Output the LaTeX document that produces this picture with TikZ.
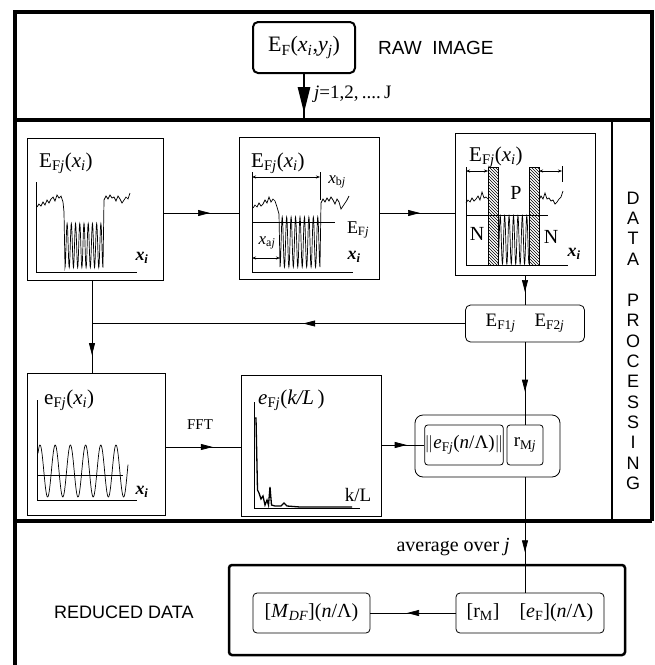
\documentclass[tikz,border=0pt]{standalone}
\usepackage{fontspec}
\setmainfont{Liberation Serif}
\setsansfont{Liberation Sans}
\usetikzlibrary{arrows.meta,decorations.markings,patterns}
\newcommand\sbs[1]{\textsubscript{#1}}
\newcommand\fz[1]{\fontsize{#1}{#1}\selectfont}
\begin{document}
\begin{tikzpicture}[x=1pt,y=-1pt,
  frame/.style={line width=3.5pt},
  panel/.style={draw,line width=0.8pt,inner sep=0pt},
  rbox/.style={draw,line width=0.8pt,rounded corners=5pt,inner sep=0pt},
  conn/.style={line width=0.7pt},
  marr/.style={postaction={decorate},decoration={markings,mark=at position #1 with {\arrow{Triangle[length=12pt,width=6pt]}}}},
  bigarr/.style={postaction={decorate},decoration={markings,mark=at position #1 with {\arrow{Triangle[length=26pt,width=12pt]}}}},
  curve/.style={line width=0.7pt},
  axis/.style={line width=0.7pt},
  dim/.style={line width=0.5pt,{Stealth[length=4pt,width=3pt]}-{Stealth[length=4pt,width=3pt]}},
  lab/.style={inner sep=0pt,font=\fz{21}},
  xlab/.style={inner sep=0pt,font=\fz{18}\bfseries\itshape},
  caps/.style={inner sep=0pt,font=\sffamily\fz{18}}
]
\useasboundingbox (0,0) rectangle (655,665);
\fill[white] (0,0) rectangle (655,665);

% frame
\draw[frame] (15,665) -- (15,12) -- (652,12) -- (652,521);
\draw[frame] (15,120) -- (652,120);
\draw[frame] (15,521) -- (652,521);
\draw[line width=2.5pt] (612,120) -- (612,521);

% raw image
\node[rbox,line width=2pt,minimum width=102,minimum height=51,font=\fz{22}] (raw) at (304,47.5) {E\sbs{F}(\textit{x\sbs{i}},\textit{y\sbs{j}})};
\node[caps,anchor=west,font=\sffamily\fz{19}] (rawlab) at (378,48) {RAW\ \ IMAGE};
\coordinate (sep1) at (304,120);
\draw[line width=2.5pt,bigarr=0.85] (raw.south) -- (sep1);
\node[inner sep=0pt,anchor=west,font=\fz{19}] (jlab) at (314,94) {\textit{j}=1,2,\,....\,J};

% panels
\node[panel,minimum width=136,minimum height=142] (p1) at (95,209) {};
\node[panel,minimum width=140,minimum height=142] (p2) at (309,208) {};
\node[panel,minimum width=140,minimum height=142] (p3) at (525,204) {};
\node[rbox,minimum width=119,minimum height=37,font=\fz{19}] (ef) at (525,323.5) {E\sbs{F1\textit{j}}\quad E\sbs{F2\textit{j}}};
\node[panel,minimum width=138,minimum height=142] (p4) at (96,444) {};
\node[panel,minimum width=140,minimum height=141] (p5) at (311,445.5) {};
\node[rbox,rounded corners=8pt,minimum width=145,minimum height=62] (outer) at (487.5,446) {};
\node[rbox,rounded corners=3pt,minimum width=78,minimum height=40,font=\fz{19}] (norm) at (464,445) {$\|$\textit{e}\sbs{F\textit{j}}(\textit{n}/Λ)$\|$};
\node[rbox,rounded corners=3pt,minimum width=36,minimum height=40,font=\fz{19}] (rmj) at (525,445) {r\sbs{M\textit{j}}};

% panel 1
\node[lab,anchor=west] (l1) at (39,163) {E\sbs{F\textit{j}}(\textit{x\sbs{i}})};
\draw[axis] (36,182) -- (36,272) -- (137,272);
\draw[curve] plot coordinates {(37,207)(39,204)(41,206)(43,202)(45,205)(47,200)(49,203)(51,199)(53,197)(55,201)(57,195)(59,198)(61,196)(63,202)(64,212)}
  -- plot[domain=0:9,samples=181] ({65+38*\x/9},{245.5+22*cos(360*\x)})
  -- plot coordinates {(104,200)(106,196)(108,199)(110,195)(112,198)(114,197)(116,201)(118,196)(120,199)(122,203)(124,200)(126,197)(128,199)(130,193)};
\node[xlab] (xi1) at (142,258) {x\sbs{i}};

% panel 2
\node[lab,anchor=west] (l2) at (251,163) {E\sbs{F\textit{j}}(\textit{x\sbs{i}})};
\draw[axis] (252,172) -- (252,272) -- (353,272);
\draw[curve] plot coordinates {(253,208)(255,205)(257,207)(259,203)(261,206)(263,204)(265,200)(267,203)(269,197)(271,202)(273,199)(275,201)(277,207)(279,214)}
  -- plot[domain=0:9,samples=181] ({280+40*\x/9},{242+25*cos(360*\x)})
  -- plot coordinates {(321,203)(323,199)(325,202)(327,198)(329,201)(331,197)(333,200)(335,204)(337,199)(339,202)(341,209)(343,206)(345,203)(347,200)(349,196)};
\draw[axis] (320,172) -- (320,200);
\draw[dim] (252,177) -- (320,177);
\draw[axis] (252,222) -- (335,222);
\draw[dim] (252,258) -- (280,258);
\node[inner sep=0pt,font=\fz{17}] (xb) at (337,182) {\textit{x}\sbs{b\textit{j}}};
\node[inner sep=0pt,font=\fz{18}] (efl) at (358,230) {E\sbs{F\textit{j}}};
\node[inner sep=0pt,font=\fz{17}] (xa) at (267,243) {\textit{x}\sbs{a\textit{j}}};
\node[xlab] (xi2) at (354,257) {x\sbs{i}};

% panel 3
\node[lab,anchor=west] (l3) at (469,157) {E\sbs{F\textit{j}}(\textit{x\sbs{i}})};
\draw[axis] (466,167) -- (466,265) -- (568,265);
\draw[curve] plot coordinates {(466,203)(468,200)(470,202)(472,198)(474,201)(476,199)(478,196)(480,200)(482,192)(484,198)(486,197)(488,199)};
\draw[curve] plot coordinates {(539,200)(541,196)(543,199)(545,193)(547,199)(549,198)(551,201)(553,200)(555,204)(557,202)(559,199)(561,197)(563,191)};
\draw[curve] plot[domain=0:7,samples=141] ({498+31*\x/7},{240+24*cos(360*\x)});
\draw[axis] (466,215) -- (548,215);
\draw[line width=0.7pt,pattern=north west lines] (488,167) rectangle (498,265);
\draw[line width=0.7pt,pattern=north west lines] (529,167) rectangle (539,265);
\draw[dim] (466,171) -- (488,171);
\draw[dim] (539,171) -- (562,171);
\draw[axis] (562,166) -- (562,182);
\node[inner sep=0pt,font=\fz{20}] (pl) at (516,193) {P};
\node[inner sep=0pt,font=\fz{20}] (n1) at (477,234) {N};
\node[inner sep=0pt,font=\fz{20}] (n2) at (551,237) {N};
\node[xlab] (xi3) at (574,254) {x\sbs{i}};

% panel 4
\node[lab,anchor=west] (l4) at (44,400) {e\sbs{F\textit{j}}(\textit{x\sbs{i}})};
\draw[axis] (37,400) -- (37,500) -- (137,500);
\draw[axis] (37,475) -- (123,475);
\draw[curve] plot[domain=38:128,samples=200] (\x,{471-26*cos(23.684*(\x-40))});
\node[xlab] (xi4) at (142,492) {x\sbs{i}};

% panel 5
\node[lab,anchor=west] (l5) at (258,400) {\textit{e}\sbs{F\textit{j}}(\textit{k/L\,})};
\draw[axis] (254,402) -- (254,508) -- (360,508);
\draw[line width=1.3pt] plot coordinates {(255,418)(256,418)(257.5,490)(259,493)(261,499)(263,496)(265,505)(267,500)(268.5,505)(270,487)(271.5,505)(275,506)(281,506)(284,503)(287,506)(300,507)(320,507)(340,507)(352,507)};
\node[inner sep=0pt,font=\fz{19}] (kl) at (358,495) {k/L};

\node[inner sep=0pt,font=\fz{15}] (fft) at (200,425) {FFT};

% connectors
\coordinate (r1) at (0,213);
\coordinate (r2) at (0,447);
\coordinate (vx) at (92,0);
\draw[conn,marr=0.62] (p1.east |- r1) -- (p2.west |- r1);
\draw[conn,marr=0.54] (p2.east |- r1) -- (p3.west |- r1);
\draw[conn,marr=0.57] (p3.south) -- (ef.north);
\draw[conn,marr=0.434] (ef.west) -- (vx |- ef.west);
\draw[conn,marr=0.81] (vx |- p1.south) -- (vx |- p4.north);
\draw[conn,marr=0.63] (p4.east |- r2) -- (p5.west |- r2);
\draw[conn,marr=0.59] (p5.east |- norm.west) -- (norm.west);
\draw[conn,marr=0.60] (ef.south) -- (rmj.north);

% data processing label
\foreach \ch [count=\k] in {D,A,T,A}
  \node[caps] (dp\k) at (633,{198+(\k-1)*20.4}) {\ch};
\foreach \ch [count=\k] in {P,R,O,C,E,S,S,I,N,G}
  \node[caps] (pr\k) at (633,{198+(\k+4)*20.4}) {\ch};

% reduced data
\node[caps,anchor=west] (redlab) at (54,612) {REDUCED DATA};
\node[draw,line width=2.5pt,rounded corners=3pt,minimum width=396,minimum height=90] (red) at (427,610) {};
\node[rbox,rounded corners=4pt,minimum width=117,minimum height=40,font=\fz{20}] (box1) at (311.5,613) {[\textit{M}\sbs{\textit{DF}}](\textit{n}/Λ)};
\node[rbox,rounded corners=4pt,minimum width=148,minimum height=40,font=\fz{20}] (box2) at (530,613) {[r\sbs{M}]\quad[\textit{e}\sbs{F}](\textit{n}/Λ)};
\node[inner sep=0pt,anchor=east,font=\fz{20}] (avg) at (510,547) {average over \textit{j}};
\draw[conn,marr=0.65] (rmj.south |- outer.south) -- (rmj.south |- box2.north);
\draw[conn,marr=0.57] (box2.west) -- (box1.east);
\end{tikzpicture}
\end{document}
